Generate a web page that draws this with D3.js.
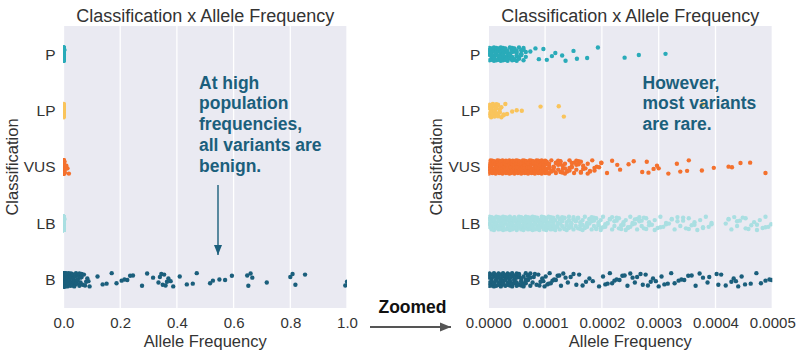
<!DOCTYPE html>
<html><head><meta charset="utf-8">
<script src="https://cdn.jsdelivr.net/npm/d3@7/dist/d3.min.js"></script>
<style>
body{margin:0;background:#fff;}
svg{display:block;font-family:"Liberation Sans",Arial,Helvetica,sans-serif;}
</style>
</head><body>
<svg id="chart" width="800" height="356"></svg>
<script>
// ---------------- DATA ----------------
const categories = ["P", "LP", "VUS", "LB", "B"];
const seriesColors = ["#2aabb9", "#f9c45c", "#f4712e", "#aadfe2", "#1b5f7c"];

const leftTicks = [0, 0.2, 0.4, 0.6, 0.8, 1.0];
const rightTicks = [0, 0.0001, 0.0002, 0.0003, 0.0004, 0.0005];

// allele frequencies in units of 1e-6 (per million), with number of variants at each value
const P_afPerMillion = [2,6,10,14,18,22,26,30,34,38,42,46,50,54,58,62,66,74,83,89,97,103,112,118,130,136,150,156,174,193,240,265,312,900,1800,3200];
const P_count        = [8,8,7,8,7,7,8,7,6,6,6,5,5,4,4,3,2,1,1,1,1,1,1,1,1,1,1,1,1,1,1,1,1,1,1,1];

const LP_afPerMillion = [2,5,8,11,14,17,20,23,27,30,33,42,50,59,92,124,133,377,700];
const LP_count        = [6,6,5,5,4,4,3,2,2,1,1,1,1,1,1,1,1,1,1];

const VUS_afPerMillion = [1,4,7,10,13,16,19,22,25,28,31,34,37,40,43,46,49,52,55,58,61,64,67,70,73,76,79,82,85,88,91,94,97,100,
  103,107,111,115,119,123,127,131,135,139,143,147,151,155,159,163,167,171,175,179,183,187,191,195,199,
  209,218,227,232,247,256,271,279,282,291,297,300,317,332,338,350,353,376,397,423,429,444,461,488,
  800,1200,2000,3500,5000,7000,10000,14000,19000];
const VUS_count = [6,6,6,6,6,6,6,6,6,6,6,6,6,6,6,6,6,6,6,6,6,6,6,6,6,6,6,6,6,6,6,6,6,6,
  4,4,3,4,3,3,4,3,3,2,3,3,2,3,2,3,2,1,2,2,1,2,1,1,2,
  1,1,1,1,1,1,1,1,1,1,1,1,1,1,1,1,1,1,1,1,1,1,1,1,
  2,2,2,1,1,1,1,1,1];

const LB_afPerMillion = [2,6,10,14,18,22,26,30,34,38,42,46,50,54,58,62,66,70,74,78,82,86,90,94,98,102,106,110,114,
  118,122,126,130,134,138,142,146,150,154,158,162,166,170,174,178,182,186,190,194,198,
  202,206,210,214,218,222,226,230,234,238,242,246,250,254,258,262,266,270,274,278,
  283,288,293,298,303,308,313,318,323,328,333,338,343,348,353,358,363,368,373,378,383,388,393,
  418,423,428,433,438,443,448,453,458,463,468,473,478,483,488,493,498,
  700,1200,2000,3500];
const LB_count = [7,7,7,7,7,7,7,7,7,7,7,7,7,7,7,7,7,7,7,7,7,7,7,7,7,7,7,7,7,
  4,4,4,4,4,4,4,4,4,3,3,3,3,3,3,3,3,3,3,3,3,
  2,2,2,2,2,2,2,2,2,2,2,2,2,2,2,2,2,2,2,2,
  2,1,2,1,2,1,2,1,2,1,2,1,2,1,2,1,2,1,1,2,1,1,2,
  1,2,1,1,2,1,1,2,1,1,1,2,1,1,2,1,1,
  1,1,1,1];

const B_afPerMillion = [2,6,10,14,18,22,26,30,34,38,42,46,50,54,58,62,66,70,74,
  78,80,82,85,88,90,92,95,97,99,101,104,106,108,110,113,116,119,122,125,128,132,136,140,145,150,155,160,166,172,178,184,195,
  202,206,210,214,218,222,226,231,236,240,245,250,254,258,262,268,272,277,281,286,290,295,300,305,310,316,322,328,335,340,345,
  352,358,365,372,378,386,389,402,405,410,418,428,432,436,440,446,452,462,472,480,488,495,499,
  600,800,1000,1300,1600,2000,2500,3000,3500,4000,5000,6000,7000,8000,9000,10000,11000,12000,14000,16000,18000,20000,
  22000,24000,26000,28000,30000,32000,35000,38000,41000,44000,47000,50000,53000,56000,
  60000,64000,68000,72000,76000,80000,84000,88000,92000,120000,138000,152000,170000,187000,205000,215000,225000,235000,245000,
  277000,295000,316000,335000,340000,345000,350000,355000,360000,365000,370000,378000,387000,410000,435000,456000,470000,
  517000,527000,550000,570000,594000,648000,652000,660000,666000,717000,800000,808000,818000,852000,994000,1000000];
const B_count = [6,6,6,6,6,6,6,5,6,5,5,5,5,4,4,4,4,3,3,
  1,1,1,1,1,1,1,1,1,1,1,1,1,1,1,1,1,1,1,1,1,1,1,1,1,1,1,1,1,1,1,1,1,
  1,1,1,1,1,1,1,1,1,1,1,1,1,1,1,1,1,1,1,1,1,1,1,1,1,1,1,1,1,1,1,1,1,
  1,1,1,1,1,1,1,1,1,1,1,1,1,1,1,1,1,1,1,1,1,1,1,
  4,4,4,4,4,4,4,4,3,3,3,3,3,3,3,3,3,3,2,2,2,2,
  2,2,2,2,2,2,2,2,2,2,2,2,2,2,
  1,1,1,1,1,1,1,1,1,1,1,1,1,1,1,1,1,1,1,
  1,1,1,1,1,1,1,1,1,1,1,1,1,1,1,1,1,
  1,1,1,1,1,1,1,1,1,1,1,1,1,1,1,1];

const seriesData = [
  [P_afPerMillion, P_count],
  [LP_afPerMillion, LP_count],
  [VUS_afPerMillion, VUS_count],
  [LB_afPerMillion, LB_count],
  [B_afPerMillion, B_count]
];

// fixed jitter pattern (fraction of jitter half-width) for strip plot
const jitterPattern = [0.12,-0.83,0.55,-0.31,0.94,-0.62,0.27,-0.05,0.71,-0.95,0.38,-0.47,0.86,-0.18,0.03,-0.74,0.49,-0.39,0.66,-0.9,0.19,-0.57,0.81];

// ---------------- DRAW ----------------
const svg = d3.select("#chart");
const FONT = '"Liberation Sans",Arial,Helvetica,sans-serif';
const TEXT = "#333";
const ANNO = "#1b5f7c";
const plotTop = 26, plotBottom = 308;

const points = [];
seriesData.forEach(([af, cnt], si) => {
  let k = 0;
  af.forEach((v, i) => {
    const c = cnt[i] == null ? 1 : cnt[i];
    for (let j = 0; j < c; j++) {
      points.push({ cat: categories[si], color: seriesColors[si], af: v * 1e-6, jit: jitterPattern[(k * 7 + si * 3) % jitterPattern.length] });
      k++;
    }
  });
});

const defs = svg.append("defs");

function panel(cfg) {
  const g = svg.append("g");
  const x = d3.scaleLinear().domain([cfg.ticks[0], cfg.ticks[cfg.ticks.length - 1]]).range([cfg.x0, cfg.x1]);
  const y = d3.scalePoint().domain(categories).range([plotTop, plotBottom]).padding(0.5);

  g.append("rect").attr("x", cfg.x0).attr("y", plotTop).attr("width", cfg.x1 - cfg.x0).attr("height", plotBottom - plotTop).attr("fill", "#eaeaf2");

  g.selectAll("line.grid").data(cfg.ticks).join("line")
    .attr("class", "grid")
    .attr("x1", d => x(d)).attr("x2", d => x(d))
    .attr("y1", plotTop).attr("y2", plotBottom)
    .attr("stroke", "#fff").attr("stroke-width", 1.3);

  defs.append("clipPath").attr("id", cfg.id).append("rect")
    .attr("x", cfg.x0).attr("y", plotTop).attr("width", cfg.x1 - cfg.x0).attr("height", plotBottom - plotTop);

  g.append("g").attr("clip-path", `url(#${cfg.id})`)
    .selectAll("circle").data(points.filter(p => p.af <= cfg.ticks[cfg.ticks.length - 1] * 1.01)).join("circle")
    .attr("cx", d => x(d.af))
    .attr("cy", d => y(d.cat) + d.jit * 7)
    .attr("r", 2.2)
    .attr("fill", d => d.color);

  const ax = g.append("g").attr("transform", `translate(0,${plotBottom})`)
    .call(d3.axisBottom(x).tickValues(cfg.ticks).tickFormat(d3.format(cfg.fmt)).tickSize(0).tickPadding(9));
  ax.select(".domain").remove();
  ax.attr("font-family", FONT).attr("font-size", 15);
  ax.selectAll("text").attr("fill", TEXT);

  const ay = g.append("g").attr("transform", `translate(${cfg.x0},0)`)
    .call(d3.axisLeft(y).tickSize(0).tickPadding(8));
  ay.select(".domain").remove();
  ay.attr("font-family", FONT).attr("font-size", 15.5);
  ay.selectAll("text").attr("fill", TEXT);

  g.append("text").attr("x", (cfg.x0 + cfg.x1) / 2).attr("y", 21.5)
    .attr("text-anchor", "middle").attr("font-size", 18).attr("fill", TEXT)
    .text("Classification x Allele Frequency");
  g.append("text").attr("x", (cfg.x0 + cfg.x1) / 2).attr("y", 347)
    .attr("text-anchor", "middle").attr("font-size", 16.5).attr("fill", TEXT)
    .text("Allele Frequency");
  g.append("text").attr("transform", `translate(${cfg.yTitleX},${(plotTop + plotBottom) / 2}) rotate(-90)`)
    .attr("text-anchor", "middle").attr("font-size", 16.5).attr("fill", TEXT)
    .text("Classification");

  const t = g.append("text").attr("font-size", 17.5).attr("font-weight", "bold").attr("fill", ANNO);
  cfg.note.forEach((line, i) => {
    t.append("tspan").attr("x", cfg.noteX).attr("y", 88.5 + i * 20.8).text(line);
  });
  return { x, y };
}

panel({ id: "clipL", x0: 63.5, x1: 347, ticks: leftTicks, fmt: ".1f", yTitleX: 18,
  note: ["At high", "population", "frequencies,", "all variants are", "benign."], noteX: 199 });
panel({ id: "clipR", x0: 488.3, x1: 772.3, ticks: rightTicks, fmt: ".4f", yTitleX: 442,
  note: ["However,", "most variants", "are rare."], noteX: 642.5 });

// arrow markers
defs.append("marker").attr("id", "headA").attr("viewBox", "0 0 10 10").attr("refX", 10).attr("refY", 5)
  .attr("markerWidth", 10).attr("markerHeight", 10).attr("markerUnits", "userSpaceOnUse").attr("orient", "auto")
  .append("path").attr("d", "M0,1 L10,5 L0,9 Z").attr("fill", ANNO);
defs.append("marker").attr("id", "headB").attr("viewBox", "0 0 10 10").attr("refX", 10).attr("refY", 5)
  .attr("markerWidth", 11).attr("markerHeight", 11).attr("markerUnits", "userSpaceOnUse").attr("orient", "auto")
  .append("path").attr("d", "M0,1 L10,5 L0,9 Z").attr("fill", "#555");

svg.append("line").attr("x1", 218).attr("y1", 185).attr("x2", 218).attr("y2", 255)
  .attr("stroke", ANNO).attr("stroke-width", 1.4).attr("marker-end", "url(#headA)");

svg.append("text").attr("x", 412.5).attr("y", 313).attr("text-anchor", "middle")
  .attr("font-size", 17.5).attr("font-weight", "bold").attr("fill", "#111").text("Zoomed");
svg.append("line").attr("x1", 370).attr("y1", 327).attr("x2", 451).attr("y2", 327)
  .attr("stroke", "#555").attr("stroke-width", 1.8).attr("marker-end", "url(#headB)");
</script>
</body></html>
